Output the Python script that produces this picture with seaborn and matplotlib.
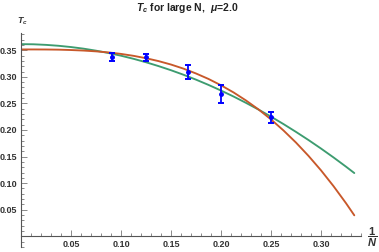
import matplotlib
matplotlib.use("Agg")
import matplotlib.pyplot as plt
import seaborn as sns
import pandas as pd
from matplotlib.ticker import FixedLocator, MultipleLocator, FormatStrFormatter

# measured points (x = 1/N)
inv_n = [0.0909, 0.125, 0.1667, 0.2, 0.25]
tc_mean = [0.3375, 0.3370, 0.3090, 0.2680, 0.2235]
tc_err = [0.0072, 0.0065, 0.0140, 0.0175, 0.0103]

# fitted curves
fit_x = [0.0, 0.0125, 0.025, 0.0375, 0.05, 0.0625, 0.075, 0.0875, 0.1,
         0.1125, 0.125, 0.1375, 0.15, 0.1625, 0.175, 0.1875, 0.2, 0.2125,
         0.225, 0.2375, 0.25, 0.2625, 0.275, 0.2875, 0.3, 0.3125, 0.325, 0.3333]
fit_green = [0.3615, 0.3612, 0.3601, 0.3584, 0.3560, 0.3530, 0.3492, 0.3448,
             0.3397, 0.3339, 0.3274, 0.3202, 0.3124, 0.3039, 0.2947, 0.2848,
             0.2742, 0.2630, 0.2510, 0.2384, 0.2251, 0.2111, 0.1964, 0.1811,
             0.1651, 0.1484, 0.1310, 0.1190]
fit_red = [0.3515, 0.3515, 0.3514, 0.3511, 0.3504, 0.3494, 0.3479, 0.3459,
           0.3431, 0.3395, 0.3350, 0.3296, 0.3231, 0.3154, 0.3063, 0.2960,
           0.2841, 0.2707, 0.2555, 0.2387, 0.2199, 0.1991, 0.1763, 0.1513,
           0.1241, 0.0944, 0.0623, 0.0395]

x_major = [0.05, 0.10, 0.15, 0.20, 0.25, 0.30]
y_major = [0.05, 0.10, 0.15, 0.20, 0.25, 0.30, 0.35]

sns.set_theme(style="white")
plt.rcParams['font.family'] = ['Liberation Sans', 'DejaVu Sans']
plt.rcParams['mathtext.fontset'] = 'custom'
plt.rcParams['mathtext.it'] = 'Liberation Sans:italic:bold'
plt.rcParams['mathtext.rm'] = 'Liberation Sans:bold'
plt.rcParams['mathtext.bf'] = 'Liberation Sans:bold'

fig = plt.figure(figsize=(3.79, 2.52), dpi=100)
ax = fig.add_axes([21 / 379, 5 / 252, 340 / 379, (247 - 32.7) / 252])

curves = pd.DataFrame({
    "x": fit_x * 2,
    "y": fit_green + fit_red,
    "fit": ["green"] * len(fit_x) + ["red"] * len(fit_x),
})
sns.lineplot(data=curves, x="x", y="y", hue="fit",
             palette=["#3d9c70", "#c8582a"], legend=False,
             linewidth=1.35, ax=ax)

ax.errorbar(inv_n, tc_mean, yerr=tc_err, fmt="o", ms=2.5, color="blue",
            ecolor="blue", elinewidth=1.3, capsize=2.3, capthick=1.4, zorder=5)

ax.set_xlim(0, 0.34)
ax.set_ylim(-0.0201, 0.383)
ax.set_xlabel("")
ax.set_ylabel("")

for s in ("top", "right"):
    ax.spines[s].set_visible(False)
ax.spines["left"].set_position(("data", 0))
ax.spines["bottom"].set_position(("data", 0))
for s in ("left", "bottom"):
    ax.spines[s].set_color("#555555")
    ax.spines[s].set_linewidth(0.8)

ax.xaxis.set_major_locator(FixedLocator(x_major))
ax.yaxis.set_major_locator(FixedLocator(y_major))
ax.xaxis.set_minor_locator(MultipleLocator(0.01))
ax.yaxis.set_minor_locator(MultipleLocator(0.01))
ax.xaxis.set_major_formatter(FormatStrFormatter("%.2f"))
ax.yaxis.set_major_formatter(FormatStrFormatter("%.2f"))
ax.tick_params(which="both", direction="in", color="#777777", width=0.6,
               labelsize=6.5, labelcolor="#333333",
               bottom=True, left=True)
ax.tick_params(which="major", length=4)
ax.tick_params(which="minor", length=2.2)
ax.tick_params(axis="x", pad=2.5)
ax.tick_params(axis="y", pad=3)
for lab in ax.get_xticklabels() + ax.get_yticklabels():
    lab.set_fontweight("bold")

fig.text(0.495, 1 - 8 / 252, r"$T_c$ for large N,  $\mu$=2.0",
         ha="center", va="center", fontsize=7.5, fontweight="bold", color="#222222")
fig.text(22 / 379, 1 - 21.7 / 252, r"$T_c$", ha="center", va="center",
         fontsize=6.5, color="#333333")
fig.text(372 / 379, 1 - 237 / 252, r"$\dfrac{1}{N}$", ha="center", va="center",
         fontsize=8, color="#333333")

fig.savefig("out.png", dpi=100)
